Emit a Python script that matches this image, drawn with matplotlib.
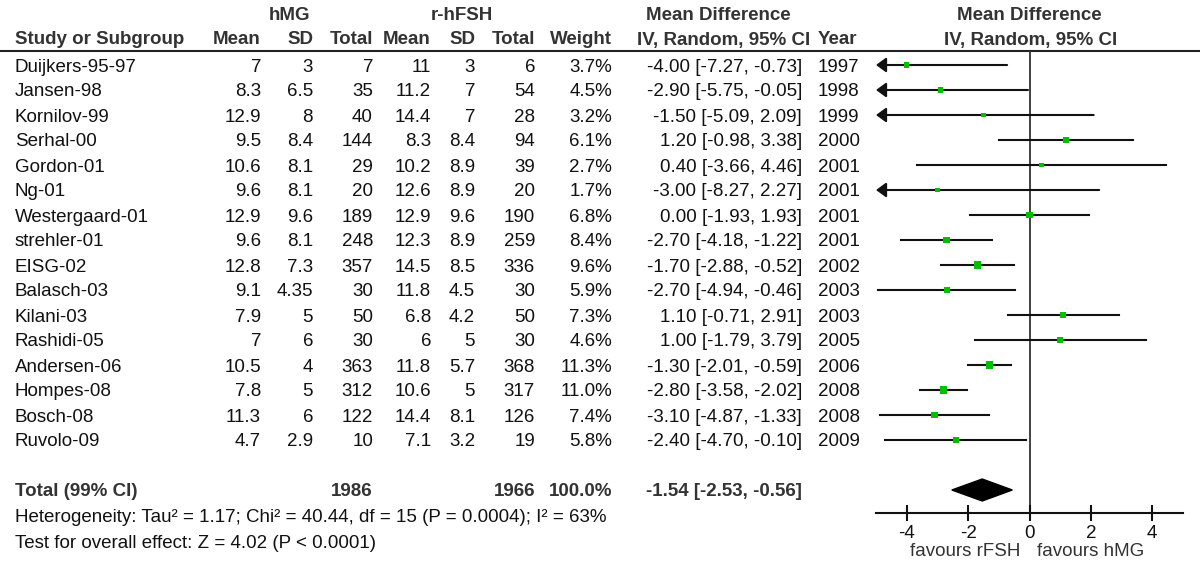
import matplotlib.pyplot as plt
from matplotlib.patches import Polygon

plt.rcParams['font.family'] = ['Liberation Sans', 'DejaVu Sans']

studies = ["Duijkers-95-97", "Jansen-98", "Kornilov-99", "Serhal-00", "Gordon-01",
           "Ng-01", "Westergaard-01", "strehler-01", "EISG-02", "Balasch-03",
           "Kilani-03", "Rashidi-05", "Andersen-06", "Hompes-08", "Bosch-08", "Ruvolo-09"]
hmg_mean = [7, 8.3, 12.9, 9.5, 10.6, 9.6, 12.9, 9.6, 12.8, 9.1, 7.9, 7, 10.5, 7.8, 11.3, 4.7]
hmg_sd = [3, 6.5, 8, 8.4, 8.1, 8.1, 9.6, 8.1, 7.3, 4.35, 5, 6, 4, 5, 6, 2.9]
hmg_n = [7, 35, 40, 144, 29, 20, 189, 248, 357, 30, 50, 30, 363, 312, 122, 10]
fsh_mean = [11, 11.2, 14.4, 8.3, 10.2, 12.6, 12.9, 12.3, 14.5, 11.8, 6.8, 6, 11.8, 10.6, 14.4, 7.1]
fsh_sd = [3, 7, 7, 8.4, 8.9, 8.9, 9.6, 8.9, 8.5, 4.5, 4.2, 5, 5.7, 5, 8.1, 3.2]
fsh_n = [6, 54, 28, 94, 39, 20, 190, 259, 336, 30, 50, 30, 368, 317, 126, 19]
weight = [3.7, 4.5, 3.2, 6.1, 2.7, 1.7, 6.8, 8.4, 9.6, 5.9, 7.3, 4.6, 11.3, 11.0, 7.4, 5.8]
md = [-4.00, -2.90, -1.50, 1.20, 0.40, -3.00, 0.00, -2.70, -1.70, -2.70, 1.10, 1.00, -1.30, -2.80, -3.10, -2.40]
ci_lo = [-7.27, -5.75, -5.09, -0.98, -3.66, -8.27, -1.93, -4.18, -2.88, -4.94, -0.71, -1.79, -2.01, -3.58, -4.87, -4.70]
ci_hi = [-0.73, -0.05, 2.09, 3.38, 4.46, 2.27, 1.93, -1.22, -0.52, -0.46, 2.91, 3.79, -0.59, -2.02, -1.33, -0.10]
years = [1997, 1998, 1999, 2000, 2001, 2001, 2001, 2001, 2002, 2003, 2003, 2005, 2006, 2008, 2008, 2009]

total_hmg = 1986
total_fsh = 1966
total_md, total_lo, total_hi = -1.54, -2.53, -0.56
xticks = [-4, -2, 0, 2, 4]

FS = 13.5
HEAD = '#333333'
INK = '#111111'
GREEN = '#00c000'
W, H = 1200, 577
Y0, DY = 65, 25          # pixel centre of first row, row spacing
TOTAL_ROW = 17
XMIN, XMAX = -5, 5

fig = plt.figure(figsize=(12, 5.77), dpi=100)

# table part, drawn in pixel coordinates
tab = fig.add_axes([0, 0, 1, 1])
tab.set_xlim(0, W)
tab.set_ylim(H, 0)
tab.axis('off')


def row_y(i):
    return Y0 + DY * i + 2


def txt(x, y, s, ha='right', bold=False, color=INK):
    tab.text(x, y, s, ha=ha, va='center', fontsize=FS,
             fontweight='bold' if bold else 'normal', color=color)


# headers
txt(289, 15, "hMG", ha='center', bold=True, color=HEAD)
txt(462, 15, "r-hFSH", ha='center', bold=True, color=HEAD)
txt(646, 15, "Mean Difference", ha='left', bold=True, color=HEAD)
txt(1029, 15, "Mean Difference", ha='center', bold=True, color=HEAD)
cols = [(15, "Study or Subgroup", 'left'), (261, "Mean", 'right'), (313, "SD", 'right'),
        (373, "Total", 'right'), (431, "Mean", 'right'), (475, "SD", 'right'),
        (535, "Total", 'right'), (612, "Weight", 'right'),
        (637, "IV, Random, 95% CI", 'left'), (818, "Year", 'left'),
        (1031, "IV, Random, 95% CI", 'center')]
for x, s, ha in cols:
    txt(x, 40, s, ha=ha, bold=True, color=HEAD)
tab.plot([0, W], [51, 51], color='#222222', lw=1.5)

for i, name in enumerate(studies):
    y = row_y(i)
    txt(15, y, name, ha='left')
    txt(261, y, f"{hmg_mean[i]:g}")
    txt(313, y, f"{hmg_sd[i]:g}")
    txt(373, y, f"{hmg_n[i]}")
    txt(431, y, f"{fsh_mean[i]:g}")
    txt(475, y, f"{fsh_sd[i]:g}")
    txt(535, y, f"{fsh_n[i]}")
    txt(612, y, f"{weight[i]:.1f}%")
    txt(802, y, f"{md[i]:.2f} [{ci_lo[i]:.2f}, {ci_hi[i]:.2f}]")
    txt(818, y, f"{years[i]}", ha='left')

y = row_y(TOTAL_ROW)
txt(15, y, "Total (99% CI)", ha='left', bold=True, color=HEAD)
txt(373, y, f"{total_hmg}", bold=True, color=HEAD)
txt(535, y, f"{total_fsh}", bold=True, color=HEAD)
txt(612, y, f"{sum(weight):.1f}%", bold=True, color=HEAD)
txt(802, y, f"{total_md:.2f} [{total_lo:.2f}, {total_hi:.2f}]", bold=True, color=HEAD)
txt(15, 517, "Heterogeneity: Tau\u00b2 = 1.17; Chi\u00b2 = 40.44, df = 15 (P = 0.0004); I\u00b2 = 63%", ha='left')
txt(15, 544, "Test for overall effect: Z = 4.02 (P < 0.0001)", ha='left')

# forest part
px_l, px_r, px_t, px_b = 876, 1183, 51, 513
ax = fig.add_axes([px_l / W, 1 - px_b / H, (px_r - px_l) / W, (px_b - px_t) / H])
ax.set_xlim(XMIN, XMAX)
ax.set_ylim((px_b - Y0) / DY, (px_t - Y0) / DY)
ax.patch.set_alpha(0)
for s in ['top', 'left', 'right']:
    ax.spines[s].set_visible(False)
ax.spines['bottom'].set_linewidth(1.5)
ax.spines['bottom'].set_color('#111111')
ax.set_yticks([])
ax.set_xticks(xticks)
ax.set_xticklabels([str(t) for t in xticks])
ax.tick_params(axis='x', direction='inout', length=11, width=1.5, pad=3,
               labelsize=FS, colors='#111111')
ax.axvline(0, color='#333333', lw=1.3, zorder=1)

for i in range(len(studies)):
    if ci_lo[i] < XMIN:
        ax.annotate('', xy=(XMIN, i), xytext=(ci_hi[i], i),
                    arrowprops=dict(arrowstyle='-|>,head_length=0.3,head_width=0.22',
                                    color='#111111', lw=1.5,
                                    mutation_scale=20, shrinkA=0, shrinkB=0),
                    annotation_clip=False)
    else:
        ax.plot([ci_lo[i], ci_hi[i]], [i, i], color='#111111', lw=1.5, zorder=2)
ax.scatter(md, range(len(studies)), marker='s', s=[6 + 2.1 * w for w in weight],
           color=GREEN, zorder=3, linewidths=0)

dh = 0.44
diamond = Polygon([(total_lo, TOTAL_ROW), (total_md, TOTAL_ROW - dh),
                   (total_hi, TOTAL_ROW), (total_md, TOTAL_ROW + dh)],
                  closed=True, color='black', zorder=3)
ax.add_patch(diamond)

tab.text(1020, 552, "favours rFSH", ha='right', va='center', fontsize=FS, color='#333333')
tab.text(1037, 552, "favours hMG", ha='left', va='center', fontsize=FS, color='#333333')

fig.savefig('out.png', dpi=100)
